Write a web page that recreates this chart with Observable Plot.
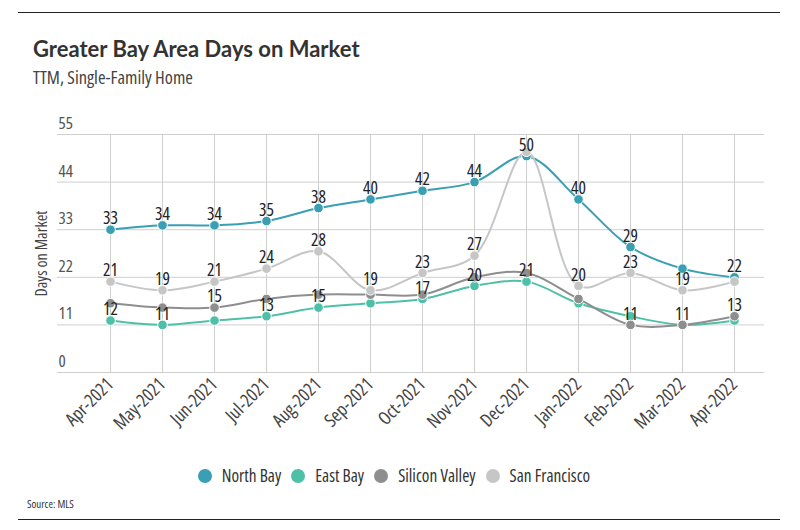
<!DOCTYPE html>
<html>
<head>
<meta charset="utf-8">
<script src="https://cdn.jsdelivr.net/npm/d3@7"></script>
<script src="https://cdn.jsdelivr.net/npm/@observablehq/plot@0.6"></script>
<style>
  html, body { margin: 0; padding: 0; background: #fff; }
  #wrap { width: 800px; height: 530px; position: relative; overflow: hidden; }
  .rule { position: absolute; left: 18px; width: 762px; height: 0; border-top: 1.5px solid #222; }
  #title { position: absolute; left: 33px; top: 35px; font-family: Lato, sans-serif; font-weight: 700; font-size: 22px; color: #333; white-space: nowrap; }
  #subtitle { position: absolute; left: 33px; top: 64px; font-size: 18.4px; color: #444; white-space: nowrap; }
  #chart { position: absolute; left: 0; top: 100px; }
  #legend { position: absolute; left: -6px; top: 464px; width: 800px; display: flex; justify-content: center; align-items: center; font-size: 17.3px; color: #333; }
  .item { display: flex; align-items: center; margin: 0 5px; }
  .sw { width: 14px; height: 14px; border-radius: 50%; margin-right: 10px; }
  #source { position: absolute; left: 27px; top: 496px; font-size: 11px; color: #333; }
  .narrow { font-family: sans-serif; }
</style>
</head>
<body>
<div id="wrap">
  <div class="rule" style="top:12px"></div>
  <div id="title">Greater Bay Area Days on Market</div>
  <div id="subtitle" class="narrow">TTM, Single-Family Home</div>
  <div id="chart"></div>
  <div id="legend" class="narrow"></div>
  <div id="source" class="narrow">Source: MLS</div>
  <div class="rule" style="top:519px"></div>
</div>
<script>
const months = ["Apr-2021","May-2021","Jun-2021","Jul-2021","Aug-2021","Sep-2021","Oct-2021","Nov-2021","Dec-2021","Jan-2022","Feb-2022","Mar-2022","Apr-2022"];
const northBay = [33,34,34,35,38,40,42,44,50,40,29,24,22];
const eastBay = [12,11,12,13,15,16,17,20,21,16,13,11,12];
const siliconValley = [16,15,15,17,18,18,18,22,23,17,11,11,13];
const sanFrancisco = [21,19,21,24,28,19,23,27,51,20,23,19,21];
const yTicks = [0,11,22,33,44,55];

const seriesNames = ["North Bay","East Bay","Silicon Valley","San Francisco"];
const seriesColors = ["#3a9fb3","#4fc0a8","#8e8e8e","#c6c6c6"];
const northBayLabeled = ["Apr-2021","May-2021","Jun-2021","Jul-2021","Aug-2021","Sep-2021","Oct-2021","Nov-2021","Dec-2021","Jan-2022","Feb-2022","Apr-2022"];
const eastBayLabeled = ["Apr-2021","May-2021","Jul-2021","Aug-2021","Oct-2021","Nov-2021","Dec-2021"];
const siliconValleyLabeled = ["Jun-2021","Feb-2022","Mar-2022","Apr-2022"];
const sanFranciscoLabeled = ["Apr-2021","May-2021","Jun-2021","Jul-2021","Aug-2021","Sep-2021","Oct-2021","Nov-2021","Jan-2022","Feb-2022","Mar-2022"];

const seriesValues = [northBay, eastBay, siliconValley, sanFrancisco];
const seriesLabeled = [northBayLabeled, eastBayLabeled, siliconValleyLabeled, sanFranciscoLabeled];

// pick the narrowest installed sans face
function measure(family, stretch) {
  const s = document.createElement("span");
  s.style.cssText = "position:absolute;visibility:hidden;white-space:nowrap;font-size:40px;";
  s.style.fontFamily = family;
  s.style.fontStretch = stretch;
  s.textContent = "Apr-2021 Days on Market Silicon Valley";
  document.body.appendChild(s);
  const w = s.getBoundingClientRect().width;
  s.remove();
  return w;
}
const candidates = [
  ['"Liberation Sans Narrow"', "normal"],
  ['"DejaVu Sans Condensed"', "normal"],
  ['"Roboto Condensed"', "normal"],
  ['"Open Sans"', "condensed"],
  ['"Noto Sans"', "condensed"],
  ['Roboto', "condensed"],
  ['"DejaVu Sans"', "condensed"],
  ['Lato', "normal"]
];
let best = ['Lato, sans-serif', "normal"], bestW = Infinity;
const monoW = measure("monospace", "normal"), serifW = measure("serif", "normal");
for (const [fam, st] of candidates) {
  const a = measure(fam + ", monospace", st), b = measure(fam + ", serif", st);
  const installed = Math.abs(a - monoW) > 0.5 || Math.abs(b - serifW) > 0.5;
  if (!installed) continue;
  if (Math.abs(a - b) > 0.5) continue;
  if (a < bestW) { bestW = a; best = [fam + ", sans-serif", st]; }
}
const narrowFamily = best[0];
const narrowStretch = best[1];
document.querySelectorAll(".narrow").forEach(el => { el.style.fontFamily = narrowFamily; el.style.fontStretch = narrowStretch; });

const marks = [
  Plot.ruleY(yTicks, {y: d => d, stroke: "#cfcfcf", strokeWidth: 1}),
  Plot.ruleX(months, {x: d => d, y1: 0, y2: 55, stroke: "#cfcfcf", strokeWidth: 1}),
  Plot.text(yTicks, {y: d => d, frameAnchor: "left", text: d => String(d), textAnchor: "start", dx: 1, dy: -11, fontSize: 17, fill: "#555"}),
  Plot.text(["Days on Market"], {frameAnchor: "left", text: d => d, textAnchor: "middle", rotate: -90, dx: -16, fontSize: 16, fill: "#444"}),
  Plot.text(months, {x: d => d, frameAnchor: "bottom", text: d => d, rotate: -45, textAnchor: "end", dx: 4, dy: 13, fontSize: 18.5, fill: "#444"})
];

seriesNames.forEach((name, i) => {
  const data = months.map((m, j) => ({month: m, value: seriesValues[i][j]}));
  marks.push(Plot.line(data, {x: "month", y: "value", stroke: seriesColors[i], strokeWidth: 2, curve: "catmull-rom"}));
  marks.push(Plot.dot(data, {x: "month", y: "value", r: 4.8, fill: seriesColors[i], stroke: "#fff", strokeWidth: 1}));
});
seriesNames.forEach((name, i) => {
  const data = months.map((m, j) => ({month: m, value: seriesValues[i][j]})).filter(d => seriesLabeled[i].includes(d.month));
  marks.push(Plot.text(data, {x: "month", y: "value", text: d => String(d.value), dy: -11, fontSize: 17.5, fill: "#222"}));
});

const chart = Plot.plot({
  width: 800,
  height: 350,
  marginTop: 34,
  marginBottom: 78,
  marginLeft: 57,
  marginRight: 36,
  style: {background: "transparent", overflow: "visible", fontFamily: narrowFamily, fontStretch: narrowStretch},
  x: {type: "point", domain: months, padding: 0, insetLeft: 49, insetRight: 27, axis: null},
  y: {domain: [0, 55], axis: null},
  marks
});
document.getElementById("chart").appendChild(chart);

const legend = document.getElementById("legend");
seriesNames.forEach((name, i) => {
  const item = document.createElement("div");
  item.className = "item";
  const sw = document.createElement("div");
  sw.className = "sw";
  sw.style.background = seriesColors[i];
  const t = document.createElement("span");
  t.textContent = name;
  item.appendChild(sw);
  item.appendChild(t);
  legend.appendChild(item);
});
</script>
</body>
</html>
